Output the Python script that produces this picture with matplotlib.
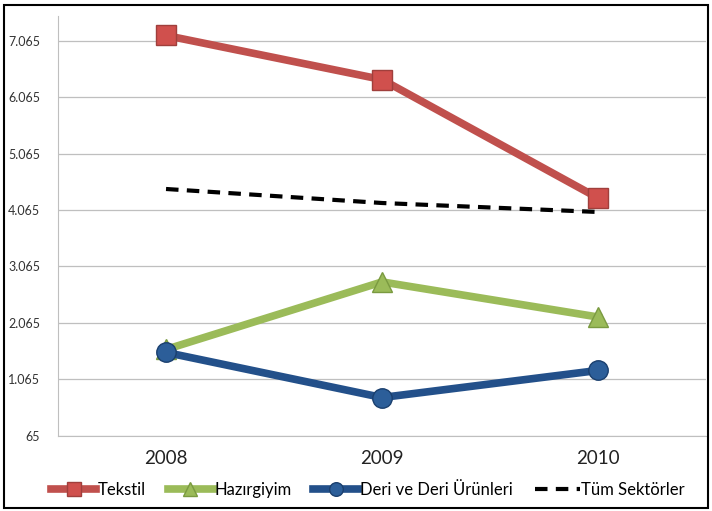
import numpy as np
import matplotlib.pyplot as plt
from matplotlib.patches import Rectangle

plt.rcParams['font.family'] = ['Lato', 'DejaVu Sans']

years = ['2008', '2009', '2010']
tekstil = [7154, 6374, 4278]
hazirgiyim = [1597, 2792, 2171]
deri = [1544, 746, 1225]
tum_sektorler = [4437, 4189, 4030]
yticks = [65, 1065, 2065, 3065, 4065, 5065, 6065, 7065]
ytick_labels = ['65', '1.065', '2.065', '3.065', '4.065', '5.065', '6.065', '7.065']

fig = plt.figure(figsize=(7.12, 5.11), dpi=100)
ax = fig.add_axes([0.0815, 0.1468, 0.9101, 0.822])

x = np.arange(len(years))

ax.plot(x, tekstil, color='#C0504D', lw=5.5, marker='s', ms=14,
        mfc='#D0504D', mec='#A03F3C', mew=1, label='Tekstil', zorder=3)
ax.plot(x, hazirgiyim, color='#9BBB59', lw=5.5, marker='^', ms=15,
        mfc='#9BBB59', mec='#7A9A40', mew=1, label='Hazırgiyim', zorder=3)
ax.plot(x, deri, color='#23508A', lw=5.5, marker='o', ms=14,
        mfc='#2C5E99', mec='#1A3F6E', mew=1, label='Deri ve Deri Ürünleri', zorder=4)
ax.plot(x, tum_sektorler, color='black', lw=3, ls=(0, (3, 2)),
        label='Tüm Sektörler', zorder=3)

ax.set_xlim(-0.5, 2.5)
ax.set_ylim(65, 7500)
ax.set_xticks(x)
ax.set_xticklabels(years, fontsize=13.5, color='#222222')
ax.set_yticks(yticks)
ax.set_yticklabels(ytick_labels, fontsize=9, color='#333333')
ax.tick_params(axis='both', length=0)
ax.tick_params(axis='x', pad=10)
ax.tick_params(axis='y', pad=13)
ax.yaxis.grid(True, color='#BFBFBF', lw=0.9)
ax.set_axisbelow(True)
for side in ['top', 'right']:
    ax.spines[side].set_visible(False)
ax.spines['left'].set_color('#BFBFBF')
ax.spines['bottom'].set_color('#BFBFBF')

fig.legend(loc='center', bbox_to_anchor=(0.517, 0.041), ncol=4, frameon=False,
           fontsize=12, handlelength=2.7, handletextpad=0.1, columnspacing=1.3,
           markerscale=0.7)

fig.add_artist(Rectangle((0.006, 0.006), 0.988, 0.985, transform=fig.transFigure,
                         fill=False, edgecolor='black', lw=1.5))

fig.savefig('out.png', dpi=100)
